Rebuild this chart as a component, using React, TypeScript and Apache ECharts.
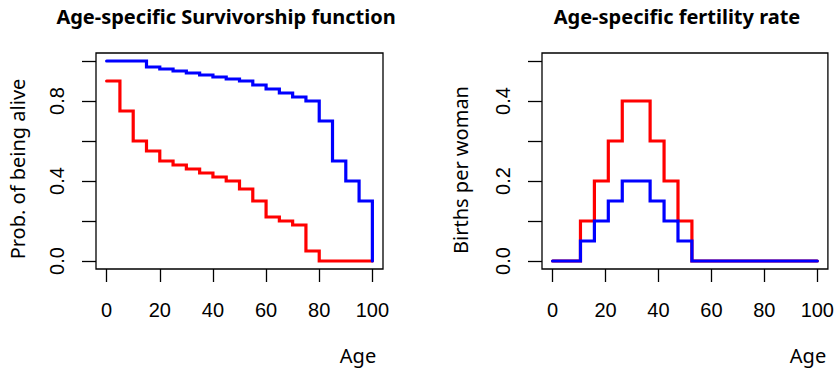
import React, { useEffect, useRef } from "react";
import * as echarts from "echarts";

// Survivorship (left panel)
const survAges = [0, 5, 10, 15, 20, 25, 30, 35, 40, 45, 50, 55, 60, 65, 70, 75, 80, 85, 90, 95, 100];
const survBlue = [1, 1, 1, 0.97, 0.96, 0.95, 0.94, 0.93, 0.92, 0.91, 0.9, 0.88, 0.86, 0.84, 0.82, 0.8, 0.7, 0.5, 0.4, 0.3, 0];
const survRed = [0.9, 0.75, 0.6, 0.55, 0.5, 0.48, 0.46, 0.44, 0.42, 0.4, 0.36, 0.3, 0.22, 0.2, 0.18, 0.05, 0, 0, 0, 0, 0];

// Fertility (right panel)
const fertAges = [0, 5.26, 10.53, 15.79, 21.05, 26.32, 31.58, 36.84, 42.11, 47.37, 52.63, 57.89, 63.16, 68.42, 73.68, 78.95, 84.21, 89.47, 94.74, 100];
const fertRed = [0, 0, 0.1, 0.2, 0.3, 0.4, 0.4, 0.3, 0.2, 0.1, 0, 0, 0, 0, 0, 0, 0, 0, 0, 0];
const fertBlue = [0, 0, 0.05, 0.1, 0.15, 0.2, 0.2, 0.15, 0.1, 0.05, 0, 0, 0, 0, 0, 0, 0, 0, 0, 0];

const xTicks = [0, 20, 40, 60, 80, 100];
const survYTicks = [0, 0.2, 0.4, 0.6, 0.8, 1.0];
const survYLabels = [0, 0.4, 0.8];
const fertYTicks = [0, 0.1, 0.2, 0.3, 0.4, 0.5];
const fertYLabels = [0, 0.2, 0.4];

const titles = ["Age-specific Survivorship function", "Age-specific fertility rate"];
const yTitles = ["Prob. of being alive", "Births per woman"];
const xTitle = "Age";

const tickFont = "'Liberation Sans', Arial, sans-serif";
const textFont = "'Noto Sans', sans-serif";

function pairs(xs: number[], ys: number[]) {
  return xs.map((x, i) => [x, ys[i]]);
}

function fmt(v: number) {
  return Number(v).toFixed(1);
}

export default function App() {
  const ref = useRef<HTMLDivElement>(null);
  useEffect(() => {
    if (!ref.current) return;
    const chart = echarts.init(ref.current, undefined, { renderer: "svg" });

    const xAxisBase = (gridIndex: number) => ({
      type: "value",
      gridIndex,
      min: -4,
      max: 104,
      axisLine: { show: false, onZero: false },
      splitLine: { show: false },
      axisTick: {
        show: true,
        inside: false,
        length: 13,
        customValues: xTicks,
        lineStyle: { color: "#000", width: 1.3 },
      },
      axisLabel: {
        show: true,
        customValues: xTicks,
        margin: 31,
        fontSize: 20,
        fontFamily: tickFont,
        color: "#000",
      },
    });

    const yAxisBase = (gridIndex: number, min: number, max: number, ticks: number[], labels: number[]) => ({
      type: "value",
      gridIndex,
      min,
      max,
      axisLine: { show: false, onZero: false },
      splitLine: { show: false },
      axisTick: {
        show: true,
        inside: false,
        length: 14,
        customValues: ticks,
        lineStyle: { color: "#000", width: 1.3 },
      },
      axisLabel: {
        show: true,
        customValues: labels,
        rotate: 90,
        margin: 29,
        fontSize: 20,
        fontFamily: tickFont,
        color: "#000",
        formatter: (v: number) => fmt(v),
      },
    });

    const lineSeries = (xi: number, data: number[][], color: string) => ({
      type: "line",
      xAxisIndex: xi,
      yAxisIndex: xi,
      data,
      step: "end",
      symbol: "none",
      showSymbol: false,
      lineStyle: { color, width: 3.2, cap: "round", join: "miter" },
      itemStyle: { color },
      silent: true,
    });

    chart.setOption({
      animation: false,
      backgroundColor: "#fff",
      grid: [
        { left: 96, top: 53, width: 287, height: 216, show: true, borderColor: "#000", borderWidth: 1.3, backgroundColor: "transparent" },
        { left: 542, top: 53, width: 286, height: 216, show: true, borderColor: "#000", borderWidth: 1.3, backgroundColor: "transparent" },
      ],
      xAxis: [xAxisBase(0), xAxisBase(1)],
      yAxis: [
        yAxisBase(0, -0.04, 1.04, survYTicks, survYLabels),
        yAxisBase(1, -0.02, 0.52, fertYTicks, fertYLabels),
      ],
      series: [
        lineSeries(0, pairs(survAges, survRed), "#ff0000"),
        lineSeries(0, pairs(survAges, survBlue), "#0000ff"),
        lineSeries(1, pairs(fertAges, fertRed), "#ff0000"),
        lineSeries(1, pairs(fertAges, fertBlue), "#0000ff"),
      ],
      graphic: [
        { type: "text", x: 226, y: 16, style: { text: titles[0], fontSize: 20, fontWeight: "bold", fontFamily: textFont, fill: "#000", align: "center", verticalAlign: "middle" } },
        { type: "text", x: 677, y: 16, style: { text: titles[1], fontSize: 20, fontWeight: "bold", fontFamily: textFont, fill: "#000", align: "center", verticalAlign: "middle" } },
        { type: "text", x: 17, y: 169, rotation: Math.PI / 2, style: { text: yTitles[0], fontSize: 20, fontFamily: textFont, fill: "#000", align: "center", verticalAlign: "middle" } },
        { type: "text", x: 460, y: 170, rotation: Math.PI / 2, style: { text: yTitles[1], fontSize: 20, fontFamily: textFont, fill: "#000", align: "center", verticalAlign: "middle" } },
        { type: "text", x: 358, y: 355, style: { text: xTitle, fontSize: 20, fontFamily: textFont, fill: "#000", align: "center", verticalAlign: "middle" } },
        { type: "text", x: 808, y: 355, style: { text: xTitle, fontSize: 20, fontFamily: textFont, fill: "#000", align: "center", verticalAlign: "middle" } },
      ],
    });

    return () => chart.dispose();
  }, []);

  return <div ref={ref} style={{ position: "fixed", left: 0, top: 0, width: 837, height: 368 }} />;
}
